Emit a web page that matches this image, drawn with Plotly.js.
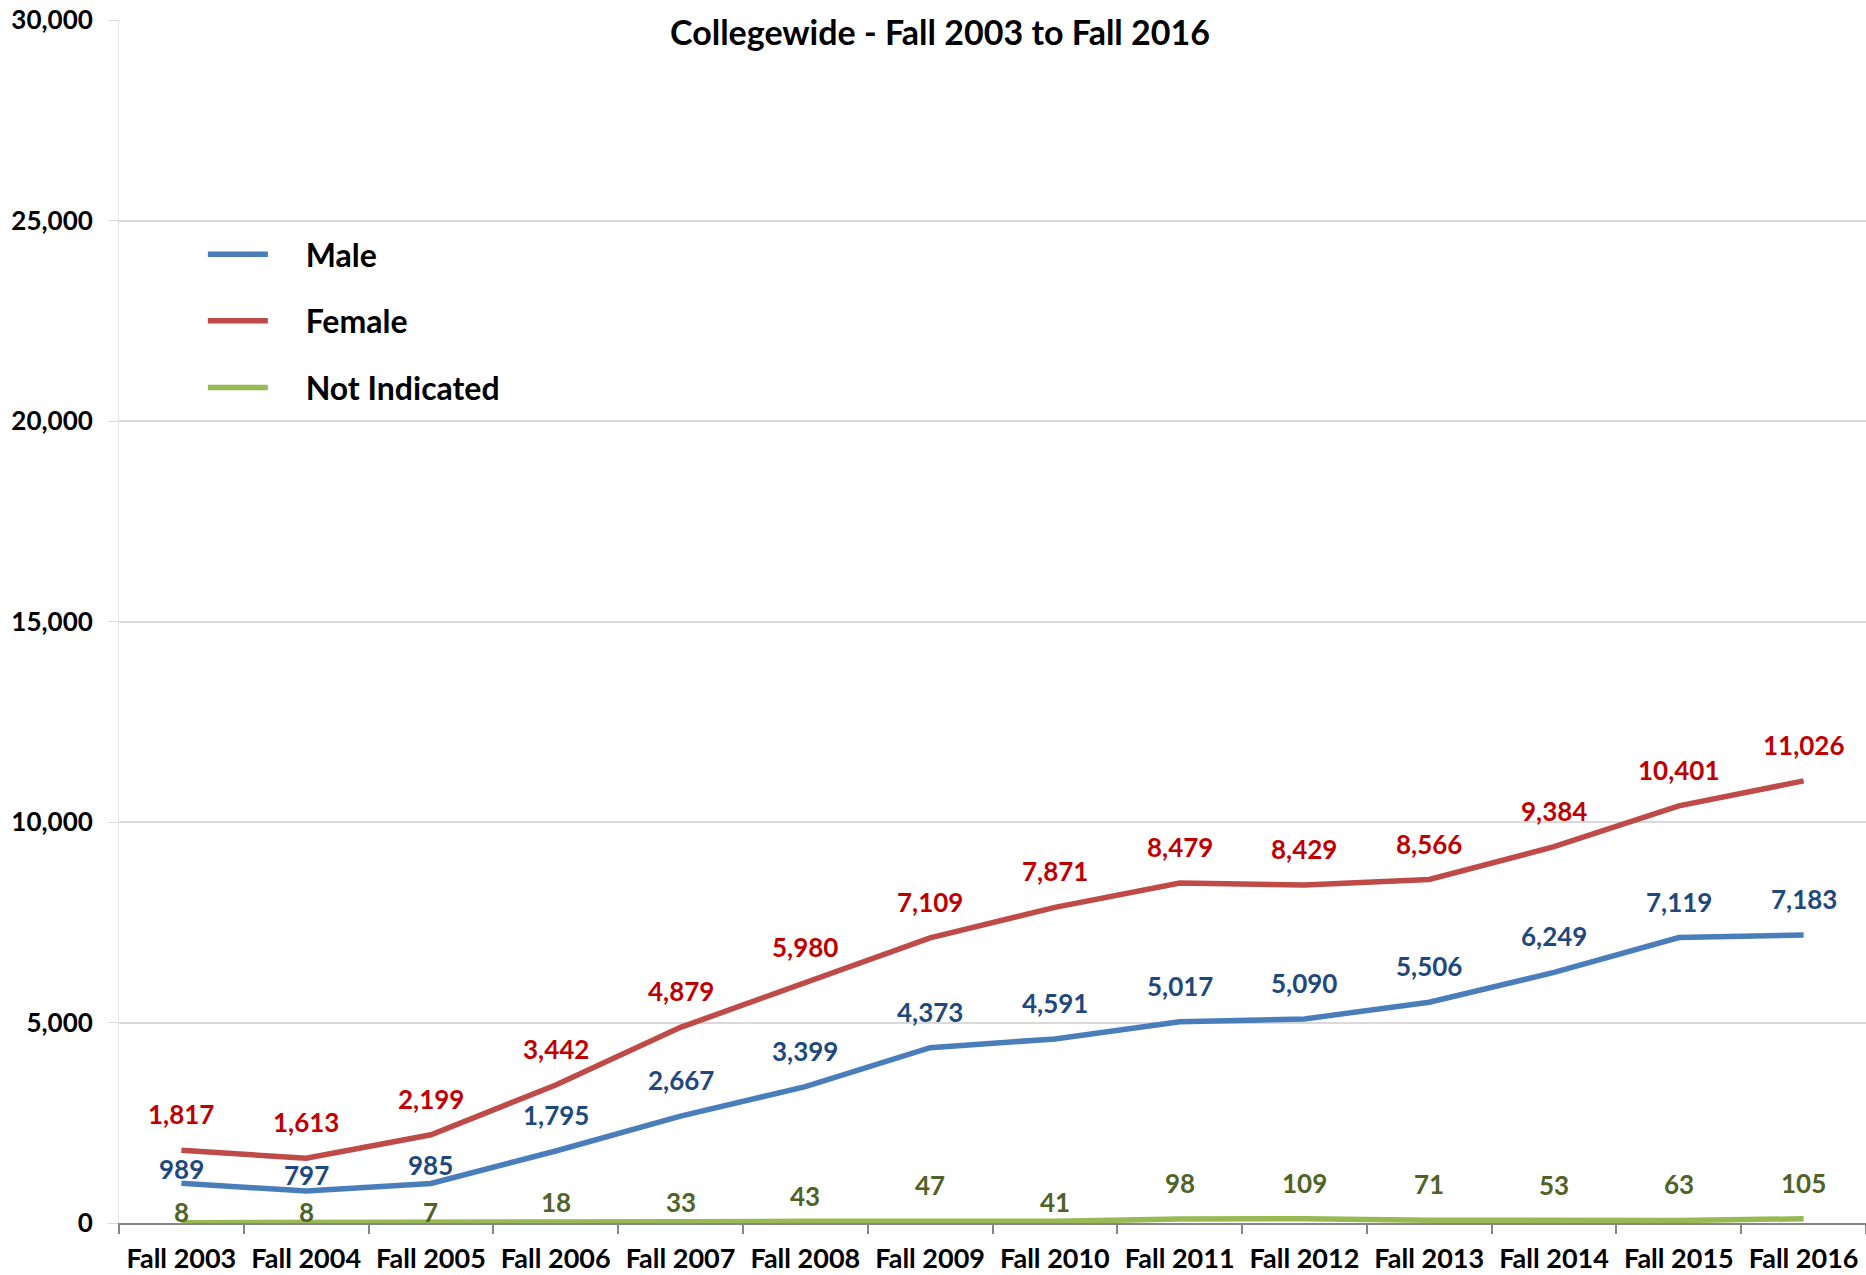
<!DOCTYPE html>
<html>
<head>
<meta charset="utf-8">
<script src="https://cdn.plot.ly/plotly-3.0.1.min.js"></script>
<style>
  html, body { margin: 0; padding: 0; background: #ffffff; }
  #chart { width: 1866px; height: 1275px; }
</style>
</head>
<body>
<div id="chart"></div>
<script>
const categories = ["Fall 2003","Fall 2004","Fall 2005","Fall 2006","Fall 2007","Fall 2008","Fall 2009","Fall 2010","Fall 2011","Fall 2012","Fall 2013","Fall 2014","Fall 2015","Fall 2016"];
const male = [989,797,985,1795,2667,3399,4373,4591,5017,5090,5506,6249,7119,7183];
const female = [1817,1613,2199,3442,4879,5980,7109,7871,8479,8429,8566,9384,10401,11026];
const notIndicated = [8,8,7,18,33,43,47,41,98,109,71,53,63,105];
const yTickValues = [0,5000,10000,15000,20000,25000,30000];
const yTickLabels = ["0","5,000","10,000","15,000","20,000","25,000","30,000"];
const titleText = "Collegewide - Fall 2003 to Fall 2016";

const FONT = "Lato, 'Open Sans', sans-serif";

// label placement (pixels above the point), styling only
const defaultLabelLift = 36;
const labelLiftOverrides = {
  "Male": {"Fall 2003": 14, "Fall 2004": 16, "Fall 2005": 19},
  "Not Indicated": {"Fall 2003": 11, "Fall 2004": 11, "Fall 2005": 11, "Fall 2006": 20,
                    "Fall 2007": 20, "Fall 2008": 25, "Fall 2010": 19}
};

const seriesDefs = [
  {name: "Male", y: male, line: "#4A7EBB", label: "#1F497D"},
  {name: "Female", y: female, line: "#BE4B48", label: "#C00000"},
  {name: "Not Indicated", y: notIndicated, line: "#98B954", label: "#4F6228"}
];

const pad = "&nbsp;".repeat(4);
const traces = seriesDefs.map((s, i) => ({
  type: "scatter",
  mode: "lines",
  name: pad + "<b>" + s.name + "</b>",
  x: categories,
  y: s.y,
  legendgroup: "g" + i,
  line: {color: s.line, width: 5.5},
  hovertemplate: s.name + ": %{y:,}<extra></extra>"
}));

const annotations = [];
seriesDefs.forEach(s => {
  const ov = labelLiftOverrides[s.name] || {};
  s.y.forEach((v, j) => {
    const c = categories[j];
    annotations.push({
      x: c, y: v, xref: "x", yref: "y",
      text: "<b>" + v.toLocaleString("en-US") + "</b>",
      showarrow: false, yshift: (c in ov) ? ov[c] : defaultLabelLift,
      font: {family: FONT, size: 26, color: s.label}
    });
  });
});

const layout = {
  width: 1866, height: 1275,
  paper_bgcolor: "#ffffff", plot_bgcolor: "#ffffff",
  margin: {l: 119, r: 0, t: 20, b: 52},
  title: {
    text: "<b>" + titleText + "</b>",
    font: {family: FONT, size: 34, color: "#000000"},
    x: 940/1866, xanchor: "center", xref: "container",
    y: 1 - 33/1275, yanchor: "middle", yref: "container"
  },
  showlegend: true,
  legend: {
    x: 0.048, y: 0.828, xanchor: "left", yanchor: "top",
    bgcolor: "rgba(0,0,0,0)",
    font: {family: FONT, size: 32, color: "#000000"},
    traceorder: "grouped", tracegroupgap: 22,
    itemwidth: 60
  },
  xaxis: {
    type: "category",
    range: [-0.5, 13.5],
    showgrid: false,
    showline: true, linecolor: "#868686", linewidth: 2,
    ticks: "outside", tickson: "boundaries", ticklen: 9, tickcolor: "#868686", tickwidth: 1.5,
    tickfont: {family: FONT, size: 27, color: "#000000"},
    ticktext: categories.map(c => "<b>" + c + "</b>"),
    tickvals: categories,
    ticklabelstandoff: 11,
    fixedrange: true
  },
  yaxis: {
    range: [0, 30000],
    tickvals: yTickValues,
    ticktext: yTickLabels.map(t => "<b>" + t + "</b>"),
    showgrid: true, gridcolor: "#D9D9D9", gridwidth: 1.5,
    zeroline: false,
    showline: true, linecolor: "#E6E6E6", linewidth: 1,
    ticks: "outside", ticklen: 10, tickcolor: "#D9D9D9",
    tickfont: {family: FONT, size: 26, color: "#000000"},
    ticklabelstandoff: 10,
    fixedrange: true
  },
  annotations: annotations
};

Plotly.newPlot("chart", traces, layout, {displayModeBar: false});
</script>
</body>
</html>
